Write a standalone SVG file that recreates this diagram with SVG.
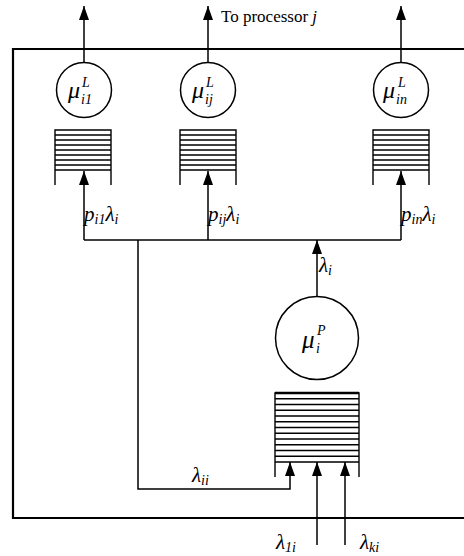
<svg xmlns="http://www.w3.org/2000/svg" width="464" height="556" viewBox="0 0 464 556">
<style>
.frame{fill:none;stroke:#000;stroke-width:2.2}
.ln{fill:none;stroke:#000;stroke-width:1.5}
.circ{fill:#fff;stroke:#000;stroke-width:1.5}
.q{fill:none;stroke:#000;stroke-width:1.4}
.m{font-family:"Liberation Serif",serif;font-style:italic;fill:#000}
.t{font-family:"Liberation Serif",serif;fill:#000;font-size:17px}
</style>
<defs>
<marker id="ah" viewBox="0 0 14 10" refX="14" refY="5" markerWidth="14" markerHeight="10" markerUnits="userSpaceOnUse" orient="auto">
<path d="M0,0 L14,5 L0,10 z" fill="#000"/>
</marker>
</defs>
<rect width="464" height="556" fill="#fff"/>
<path class="frame" d="M466,49 L13,49 L13,518 L466,518"/>

<g id="connectors">
<path class="ln" d="M84,62 L84,6" marker-end="url(#ah)"/>
<path class="ln" d="M208,62 L208,6" marker-end="url(#ah)"/>
<path class="ln" d="M401,62 L401,6" marker-end="url(#ah)"/>
<path class="ln" d="M84,240 L401,240"/>
<path class="ln" d="M84,240 L84,171" marker-end="url(#ah)"/>
<path class="ln" d="M208,240 L208,171" marker-end="url(#ah)"/>
<path class="ln" d="M401,240 L401,171" marker-end="url(#ah)"/>
<path class="ln" d="M317,297 L317,240" marker-end="url(#ah)"/>
<path class="ln" d="M138,240 L138,489 L290,489 L290,462" marker-end="url(#ah)"/>
<path class="ln" d="M317,545 L317,462" marker-end="url(#ah)"/>
<path class="ln" d="M345,545 L345,462" marker-end="url(#ah)"/>
</g>

<g id="server-i1">
<circle class="circ" cx="84" cy="90" r="27.5"/>
<text class="m" x="68" y="98" font-size="24">μ</text>
<text class="m" x="82" y="87" font-size="14">L</text>
<text class="m" x="81" y="104" font-size="14">i1</text>
</g>
<g id="server-ij">
<circle class="circ" cx="208" cy="90" r="27.5"/>
<text class="m" x="192" y="98" font-size="24">μ</text>
<text class="m" x="206" y="87" font-size="14">L</text>
<text class="m" x="205" y="104" font-size="14">ij</text>
</g>
<g id="server-in">
<circle class="circ" cx="401" cy="90" r="27.5"/>
<text class="m" x="383" y="98" font-size="24">μ</text>
<text class="m" x="398" y="87" font-size="14">L</text>
<text class="m" x="396" y="104" font-size="14">in</text>
</g>

<g id="queue-i1">
<path class="q" d="M55,185 L55,130 L111,130 L111,185 M55,135 H111 M55,140 H111 M55,145 H111 M55,150 H111 M55,155 H111 M55,160 H111 M55,165 H111 M55,170 H111"/>
</g>
<g id="queue-ij">
<path class="q" d="M180,185 L180,130 L236,130 L236,185 M180,135 H236 M180,140 H236 M180,145 H236 M180,150 H236 M180,155 H236 M180,160 H236 M180,165 H236 M180,170 H236"/>
</g>
<g id="queue-in">
<path class="q" d="M373,185 L373,130 L429,130 L429,185 M373,135 H429 M373,140 H429 M373,145 H429 M373,150 H429 M373,155 H429 M373,160 H429 M373,165 H429 M373,170 H429"/>
</g>

<g id="server-p">
<circle class="circ" cx="317" cy="338" r="41.5"/>
<text class="m" x="302" y="348" font-size="25">μ</text>
<text class="m" x="317" y="335" font-size="14">P</text>
<text class="m" x="316" y="353" font-size="14">i</text>
</g>
<g id="queue-p">
<path class="q" d="M275,477 L275,393 L359,393 L359,477 M275,398.75 H359 M275,404.5 H359 M275,410.25 H359 M275,416 H359 M275,421.75 H359 M275,427.5 H359 M275,433.25 H359 M275,439 H359 M275,444.75 H359 M275,450.5 H359 M275,456.25 H359 M275,462 H359"/>
<path d="M275,393 H359" stroke="#000" stroke-width="2.5"/>
</g>

<g id="labels">
<text class="t" x="221" y="22">To processor <tspan font-style="italic">j</tspan></text>
<text class="m" x="84" y="221" font-size="21">p<tspan font-size="14" dy="3">i1</tspan><tspan dy="-3">λ</tspan><tspan font-size="14" dy="3">i</tspan></text>
<text class="m" x="208" y="221" font-size="21">p<tspan font-size="14" dy="3">ij</tspan><tspan dy="-3">λ</tspan><tspan font-size="14" dy="3">i</tspan></text>
<text class="m" x="401" y="221" font-size="21">p<tspan font-size="14" dy="3">in</tspan><tspan dy="-3">λ</tspan><tspan font-size="14" dy="3">i</tspan></text>
<text class="m" x="319" y="272" font-size="21">λ<tspan font-size="14" dy="3">i</tspan></text>
<text class="m" x="192" y="482" font-size="21">λ<tspan font-size="14" dy="3">ii</tspan></text>
<text class="m" x="276" y="549" font-size="21">λ<tspan font-size="14" dy="3">1i</tspan></text>
<text class="m" x="360" y="549" font-size="21">λ<tspan font-size="14" dy="3">ki</tspan></text>
</g>
</svg>
